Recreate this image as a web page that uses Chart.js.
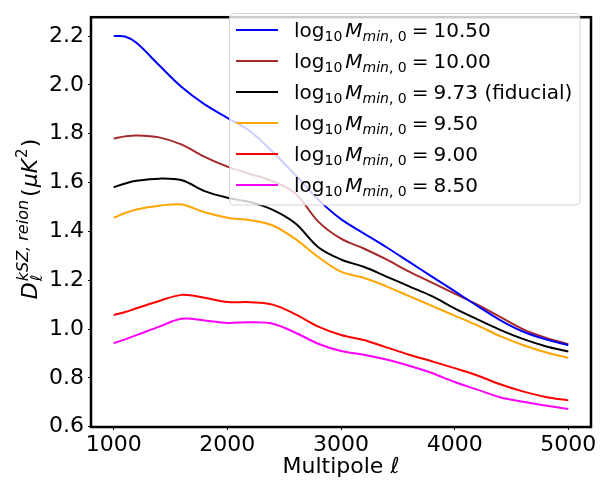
<!DOCTYPE html>
<html>
<head>
<meta charset="utf-8">
<script src="https://cdn.jsdelivr.net/npm/chart.js@4.4.1/dist/chart.umd.min.js"></script>
<style>
  html, body { margin: 0; padding: 0; background: #ffffff; }
  canvas { display: block; }
</style>
</head>
<body>
<canvas id="chart" width="614" height="485"></canvas>
<script>
// Multipole values and kSZ reionization spectra (μK²) for each M_min,0 setting
const ELL = [1000, 1100, 1200, 1400, 1600, 1800, 2000, 2200, 2400, 2600, 2800, 3000, 3200, 3400, 3600, 3800, 4000, 4200, 4400, 4600, 4800, 5000];
const D_1050 = [2.200, 2.198, 2.172, 2.080, 1.990, 1.920, 1.865, 1.810, 1.725, 1.630, 1.530, 1.450, 1.392, 1.335, 1.275, 1.215, 1.155, 1.095, 1.037, 0.990, 0.958, 0.934];
const D_1000 = [1.780, 1.789, 1.793, 1.785, 1.755, 1.705, 1.665, 1.635, 1.605, 1.555, 1.440, 1.370, 1.330, 1.285, 1.235, 1.190, 1.145, 1.100, 1.050, 1.000, 0.965, 0.938];
const D_973  = [1.581, 1.596, 1.607, 1.616, 1.609, 1.565, 1.538, 1.520, 1.488, 1.432, 1.335, 1.285, 1.255, 1.215, 1.175, 1.135, 1.085, 1.040, 0.997, 0.960, 0.930, 0.908];
const D_950  = [1.456, 1.475, 1.490, 1.505, 1.510, 1.478, 1.456, 1.446, 1.424, 1.368, 1.295, 1.235, 1.210, 1.175, 1.135, 1.095, 1.055, 1.015, 0.971, 0.935, 0.905, 0.882];
const D_900  = [1.057, 1.070, 1.085, 1.115, 1.140, 1.128, 1.111, 1.110, 1.100, 1.060, 1.010, 0.976, 0.955, 0.925, 0.895, 0.868, 0.840, 0.810, 0.774, 0.745, 0.722, 0.708];
const D_850  = [0.942, 0.958, 0.975, 1.010, 1.042, 1.035, 1.025, 1.028, 1.022, 0.985, 0.940, 0.910, 0.895, 0.875, 0.850, 0.820, 0.783, 0.752, 0.721, 0.702, 0.687, 0.673];

const LOG_MMIN = ['10.50', '10.00', '9.73', '9.50', '9.00', '8.50'];
const LEGEND_NOTE = ['', '', ' (fiducial)', '', '', ''];
const COLORS = ['#0000ff', '#a52a2a', '#000000', '#ffa500', '#ff0000', '#ff00ff'];
const SPECTRA = [D_1050, D_1000, D_973, D_950, D_900, D_850];

const X_TICKS = [1000, 2000, 3000, 4000, 5000];
const Y_TICKS = [0.6, 0.8, 1.0, 1.2, 1.4, 1.6, 1.8, 2.0, 2.2];

const FAMILY = '"DejaVu Sans", "Liberation Sans", sans-serif';

const datasets = SPECTRA.map((vals, i) => ({
  label: 'log10 Mmin,0 = ' + LOG_MMIN[i] + LEGEND_NOTE[i],
  data: ELL.map((l, k) => ({ x: l, y: vals[k] })),
  borderColor: COLORS[i],
  backgroundColor: COLORS[i],
  borderWidth: 2,
  pointRadius: 0,
  fill: false,
  tension: 0.35
}));

// Draw a sequence of text pieces with individual fonts and baseline shifts
function drawRuns(ctx, x, y, runs) {
  for (const r of runs) {
    ctx.font = r.font;
    ctx.fillText(r.text, x, y + (r.dy || 0));
    x += ctx.measureText(r.text).width + (r.gap || 0);
  }
  return x;
}
function runsWidth(ctx, runs) {
  let w = 0;
  for (const r of runs) {
    ctx.font = r.font;
    w += ctx.measureText(r.text).width + (r.gap || 0);
  }
  return w;
}

const decorations = {
  id: 'decorations',
  afterDraw(chart) {
    const ctx = chart.ctx;
    const a = chart.chartArea;
    ctx.save();

    // axes frame
    ctx.strokeStyle = '#000';
    ctx.lineWidth = 2.5;
    ctx.strokeRect(a.left, a.top, a.right - a.left, a.bottom - a.top);

    // x-axis title
    ctx.fillStyle = '#000';
    ctx.textAlign = 'center';
    ctx.textBaseline = 'alphabetic';
    ctx.font = '22px ' + FAMILY;
    ctx.fillText('Multipole ℓ', (a.left + a.right) / 2, 473);

    // y-axis title, rotated
    ctx.textAlign = 'left';
    const big = '22px ' + FAMILY;
    const bigIt = 'italic 22px ' + FAMILY;
    const smallIt = 'italic 16px ' + FAMILY;
    const small = '15px ' + FAMILY;
    ctx.font = bigIt;
    const wD = ctx.measureText('D').width;
    ctx.font = smallIt;
    const wSup = ctx.measureText('kSZ, reion').width;
    const wSub = ctx.measureText('ℓ').width;
    const tail = [
      { text: '(', font: big, gap: 1 },
      { text: 'μ', font: bigIt },
      { text: 'K', font: bigIt, gap: 1 },
      { text: '2', font: small, dy: -10, gap: 1 },
      { text: ')', font: big }
    ];
    const total = wD + 1 + Math.max(wSup, wSub) + 3 + runsWidth(ctx, tail);
    ctx.translate(37, 219);
    ctx.rotate(-Math.PI / 2);
    let tx = -total / 2;
    ctx.font = bigIt;
    ctx.fillText('D', tx, 0);
    tx += wD + 1;
    ctx.font = smallIt;
    ctx.fillText('kSZ, reion', tx, -9);
    ctx.fillText('ℓ', tx, 5);
    tx += Math.max(wSup, wSub) + 3;
    drawRuns(ctx, tx, 0, tail);
    ctx.restore();

    // legend
    ctx.save();
    const lx = 229.5, ly = 13.5, lw = 350.5, lh = 191.5, rad = 4;
    ctx.beginPath();
    ctx.roundRect(lx, ly, lw, lh, rad);
    ctx.fillStyle = 'rgba(255,255,255,0.8)';
    ctx.fill();
    ctx.strokeStyle = 'rgba(204,204,204,0.8)';
    ctx.lineWidth = 1;
    ctx.stroke();
    const reg = '20px ' + FAMILY;
    const it = 'italic 20px ' + FAMILY;
    const sub = '14px ' + FAMILY;
    const subIt = 'italic 14px ' + FAMILY;
    LOG_MMIN.forEach((v, i) => {
      const yRow = 30 + i * 31;
      ctx.strokeStyle = COLORS[i];
      ctx.lineWidth = 2.2;
      ctx.beginPath();
      ctx.moveTo(236, yRow);
      ctx.lineTo(278, yRow);
      ctx.stroke();
      ctx.fillStyle = '#000';
      ctx.textBaseline = 'alphabetic';
      drawRuns(ctx, 294, yRow + 7, [
        { text: 'log', font: reg },
        { text: '10', font: sub, dy: 4, gap: 3 },
        { text: 'M', font: it },
        { text: 'min', font: subIt, dy: 4 },
        { text: ', ', font: sub, dy: 4 },
        { text: '0', font: sub, dy: 4, gap: 5 },
        { text: '=', font: reg, gap: 5 },
        { text: v, font: reg },
        { text: LEGEND_NOTE[i], font: reg }
      ]);
    });
    ctx.restore();
  }
};

new Chart(document.getElementById('chart'), {
  type: 'line',
  data: { datasets },
  options: {
    responsive: false,
    animation: false,
    devicePixelRatio: 1,
    layout: { padding: { left: 0, right: 23, top: 3, bottom: 0 } },
    plugins: { legend: { display: false }, tooltip: { enabled: false } },
    scales: {
      x: {
        type: 'linear',
        min: 800,
        max: 5200,
        afterBuildTicks: s => { s.ticks = X_TICKS.map(v => ({ value: v })); },
        afterFit: s => { s.height = 58; },
        ticks: {
          autoSkip: false, maxRotation: 0, padding: 2, color: '#000',
          font: { family: FAMILY, size: 22 },
          callback: v => String(v)
        },
        grid: { display: true, drawOnChartArea: false, drawTicks: true, tickLength: 3, color: '#000', lineWidth: 1 },
        border: { display: false }
      },
      y: {
        type: 'linear',
        min: 0.599,
        max: 2.277,
        afterBuildTicks: s => { s.ticks = Y_TICKS.map(v => ({ value: v })); },
        afterFit: s => { s.width = 91; },
        ticks: {
          autoSkip: false, padding: 4, color: '#000',
          font: { family: FAMILY, size: 22 },
          callback: v => v.toFixed(1)
        },
        grid: { display: true, drawOnChartArea: false, drawTicks: true, tickLength: 3, color: '#000', lineWidth: 1 },
        border: { display: false }
      }
    }
  },
  plugins: [decorations]
});
</script>
</body>
</html>
